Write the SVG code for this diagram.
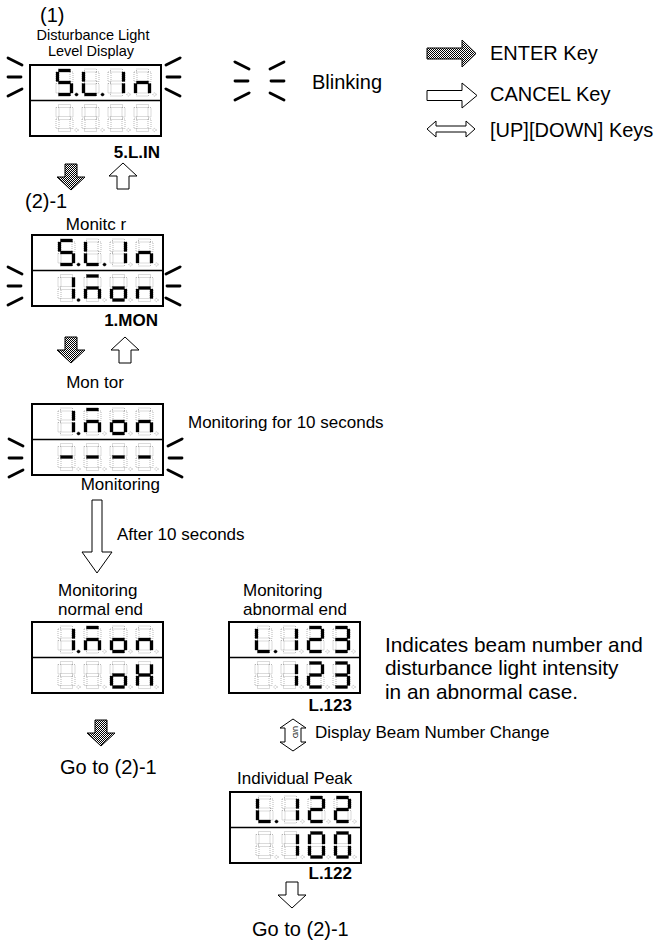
<svg xmlns="http://www.w3.org/2000/svg" width="660" height="949" viewBox="0 0 660 949">
<style>
text{font-family:"Liberation Sans",Arial,sans-serif;fill:#000}
.s15{font-size:14.5px}
.s17{font-size:17px}
.s20{font-size:20px}
.s21{font-size:20.8px}
.b17{font-size:17px;font-weight:bold}
.box{fill:#fff;stroke:#000;stroke-width:2}
.div{stroke:#000;stroke-width:1.5}
.dim{fill:none;stroke:#9a9a9a;stroke-width:.7;stroke-dasharray:1 1}
.on{fill:#000;stroke:#000;stroke-width:.2}
.blink{stroke:#000;stroke-width:2.8;stroke-linecap:round;fill:none}
.ent{fill:url(#hatch);stroke:#000;stroke-width:1}
.can{fill:#fff;stroke:#000;stroke-width:1}
</style>
<defs>
<pattern id="hatch" width="2" height="2" patternUnits="userSpaceOnUse"><rect width="2" height="2" fill="#fff"/><rect width="1" height="1" fill="#000"/><rect x="1" y="1" width="1" height="1" fill="#000"/></pattern>
<rect id="sa" x="2.5" y="0" width="12" height="3"/>
<rect id="sb" x="14" y="3" width="3" height="9.5"/>
<rect id="sc" x="14" y="14.5" width="3" height="9.5"/>
<rect id="sd" x="2.5" y="24" width="12" height="3"/>
<rect id="se" x="0" y="14.5" width="3" height="9.5"/>
<rect id="sf" x="0" y="3" width="3" height="9.5"/>
<rect id="sg" x="2.5" y="12" width="12" height="3"/>
<circle id="sp" cx="20.5" cy="25.5" r="1.6"/>
<g id="d8" class="dim"><use href="#sa"/><use href="#sb"/><use href="#sc"/><use href="#sd"/><use href="#se"/><use href="#sf"/><use href="#sg"/><use href="#sp"/></g>
<g id="k5" class="on"><use href="#sa"/><use href="#sf"/><use href="#sg"/><use href="#sc"/><use href="#sd"/></g>
<g id="kL" class="on"><use href="#sf"/><use href="#se"/><use href="#sd"/></g>
<g id="k1" class="on"><use href="#sb"/><use href="#sc"/></g>
<g id="kn" class="on"><use href="#se"/><use href="#sg"/><use href="#sc"/></g>
<g id="kM" class="on"><use href="#sa"/><use href="#se"/><use href="#sg"/><use href="#sc"/></g>
<g id="ko" class="on"><use href="#sg"/><use href="#sc"/><use href="#sd"/><use href="#se"/></g>
<g id="km" class="on"><use href="#sg"/></g>
<g id="kH" class="on"><use href="#sb"/><use href="#sc"/><use href="#se"/><use href="#sf"/><use href="#sg"/></g>
<g id="k2" class="on"><use href="#sa"/><use href="#sb"/><use href="#sg"/><use href="#se"/><use href="#sd"/></g>
<g id="k3" class="on"><use href="#sa"/><use href="#sb"/><use href="#sg"/><use href="#sc"/><use href="#sd"/></g>
<g id="k0" class="on"><use href="#sa"/><use href="#sb"/><use href="#sc"/><use href="#sd"/><use href="#se"/><use href="#sf"/></g>
<g id="kp" class="on"><use href="#sp"/></g>
<g id="bl" class="blink"><line x1="0" y1="-19" x2="14" y2="-12"/><line x1="0" y1="0" x2="13" y2="0"/><line x1="0" y1="19" x2="14" y2="12"/></g>
<g id="br" class="blink"><line x1="0" y1="-12" x2="14" y2="-19"/><line x1="1" y1="0" x2="14" y2="0"/><line x1="0" y1="12" x2="14" y2="19"/></g>
<path id="arrDown" d="M-6,0H6V13H14L0,26L-14,13H-6Z"/>
<path id="arrUp" d="M0,0L14,13H6V26H-6V13H-14Z"/>
</defs>
<rect width="660" height="949" fill="#fff"/>

<g id="legend">
<use href="#bl" x="235" y="81"/><use href="#br" x="270" y="81"/>
<text class="s20" x="312" y="89">Blinking</text>
<path class="ent" d="M427,48H462V40L476,53.5L462,67V59H427Z"/>
<text class="s20" x="490" y="60">ENTER Key</text>
<path class="can" d="M427,90.5H462V83L477,95.5L462,108V100.5H427Z"/>
<text class="s20" x="490" y="101">CANCEL Key</text>
<path class="can" d="M427,129L436,121V126H466V121L475,129L466,137V132H436V137Z"/>
<text class="s20" x="490" y="137">[UP][DOWN] Keys</text>
</g>

<g id="n1">
<text class="s20" x="40" y="22">(1)</text>
<text class="s15" x="93" y="40" text-anchor="middle">Disturbance Light</text>
<text class="s15" x="91" y="56" text-anchor="middle">Level Display</text>
<rect class="box" x="30" y="65" width="131" height="71"/>
<line class="div" x1="30" y1="100.5" x2="161" y2="100.5"/>
<use href="#d8" x="56" y="69"/><use href="#k5" x="56" y="69"/><use href="#kp" x="56" y="69"/>
<use href="#d8" x="82" y="69"/><use href="#kL" x="82" y="69"/><use href="#kp" x="82" y="69"/>
<use href="#d8" x="108" y="69"/><use href="#k1" x="108" y="69"/>
<use href="#d8" x="134" y="69"/><use href="#kn" x="134" y="69"/>
<use href="#d8" x="56" y="104.5"/><use href="#d8" x="82" y="104.5"/><use href="#d8" x="108" y="104.5"/><use href="#d8" x="134" y="104.5"/>
<use href="#bl" x="8" y="77"/><use href="#br" x="166" y="77"/>
<text class="b17" x="160" y="158" text-anchor="end">5.L.IN</text>
</g>

<g id="n2">
<text class="s20" x="25" y="208">(2)-1</text>
<text class="s17" x="96" y="230" text-anchor="middle">Monitc r</text>
<rect class="box" x="32" y="235" width="131" height="71"/>
<line class="div" x1="32" y1="270.5" x2="163" y2="270.5"/>
<use href="#d8" x="58" y="239"/><use href="#k5" x="58" y="239"/><use href="#kp" x="58" y="239"/>
<use href="#d8" x="84" y="239"/><use href="#kL" x="84" y="239"/><use href="#kp" x="84" y="239"/>
<use href="#d8" x="110" y="239"/><use href="#k1" x="110" y="239"/>
<use href="#d8" x="136" y="239"/><use href="#kn" x="136" y="239"/>
<use href="#d8" x="58" y="274.5"/><use href="#k1" x="58" y="274.5"/><use href="#kp" x="58" y="274.5"/>
<use href="#d8" x="84" y="274.5"/><use href="#kM" x="84" y="274.5"/>
<use href="#d8" x="110" y="274.5"/><use href="#ko" x="110" y="274.5"/>
<use href="#d8" x="136" y="274.5"/><use href="#kn" x="136" y="274.5"/>
<use href="#bl" x="8" y="286"/><use href="#br" x="166" y="286"/>
<text class="b17" x="158" y="326" text-anchor="end">1.MON</text>
</g>

<g id="n3">
<text class="s17" x="95" y="388" text-anchor="middle">Mon tor</text>
<rect class="box" x="32" y="404" width="131" height="71"/>
<line class="div" x1="32" y1="439.5" x2="163" y2="439.5"/>
<use href="#d8" x="58" y="408"/><use href="#k1" x="58" y="408"/><use href="#kp" x="58" y="408"/>
<use href="#d8" x="84" y="408"/><use href="#kM" x="84" y="408"/>
<use href="#d8" x="110" y="408"/><use href="#ko" x="110" y="408"/>
<use href="#d8" x="136" y="408"/><use href="#kn" x="136" y="408"/>
<use href="#d8" x="58" y="443.5"/><use href="#km" x="58" y="443.5"/>
<use href="#d8" x="84" y="443.5"/><use href="#km" x="84" y="443.5"/>
<use href="#d8" x="110" y="443.5"/><use href="#km" x="110" y="443.5"/>
<use href="#d8" x="136" y="443.5"/><use href="#km" x="136" y="443.5"/>
<use href="#bl" x="9" y="458"/><use href="#br" x="168" y="458"/>
<text class="s17" x="188" y="428">Monitoring for 10 seconds</text>
<text class="s17" x="160" y="490" text-anchor="end">Monitoring</text>
</g>

<g id="n4">
<text class="s17" x="58" y="596">Monitoring</text>
<text class="s17" x="58" y="615">normal end</text>
<rect class="box" x="32" y="622" width="131" height="71"/>
<line class="div" x1="32" y1="657.5" x2="163" y2="657.5"/>
<use href="#d8" x="58" y="626"/><use href="#k1" x="58" y="626"/><use href="#kp" x="58" y="626"/>
<use href="#d8" x="84" y="626"/><use href="#kM" x="84" y="626"/>
<use href="#d8" x="110" y="626"/><use href="#ko" x="110" y="626"/>
<use href="#d8" x="136" y="626"/><use href="#kn" x="136" y="626"/>
<use href="#d8" x="58" y="661.5"/>
<use href="#d8" x="84" y="661.5"/>
<use href="#d8" x="110" y="661.5"/><use href="#ko" x="110" y="661.5"/>
<use href="#d8" x="136" y="661.5"/><use href="#kH" x="136" y="661.5"/>
<text class="s20" x="60" y="774">Go to (2)-1</text>
</g>

<g id="n5">
<text class="s17" x="243" y="596">Monitoring</text>
<text class="s17" x="243" y="615">abnormal end</text>
<rect class="box" x="229" y="622" width="131" height="71"/>
<line class="div" x1="229" y1="657.5" x2="360" y2="657.5"/>
<use href="#d8" x="255" y="626"/><use href="#kL" x="255" y="626"/><use href="#kp" x="255" y="626"/>
<use href="#d8" x="281" y="626"/><use href="#k1" x="281" y="626"/>
<use href="#d8" x="307" y="626"/><use href="#k2" x="307" y="626"/>
<use href="#d8" x="333" y="626"/><use href="#k3" x="333" y="626"/>
<use href="#d8" x="255" y="661.5"/>
<use href="#d8" x="281" y="661.5"/><use href="#k1" x="281" y="661.5"/>
<use href="#d8" x="307" y="661.5"/><use href="#k2" x="307" y="661.5"/>
<use href="#d8" x="333" y="661.5"/><use href="#k3" x="333" y="661.5"/>
<text class="b17" x="352" y="711" text-anchor="end">L.123</text>
<text class="s21" x="385" y="652">Indicates beam number and</text>
<text class="s21" x="385" y="675">disturbance light intensity</text>
<text class="s21" x="385" y="699">in an abnormal case.</text>
</g>

<g id="n6">
<text class="s17" x="237" y="784">Individual Peak</text>
<rect class="box" x="230" y="792" width="131" height="71"/>
<line class="div" x1="230" y1="827.5" x2="361" y2="827.5"/>
<use href="#d8" x="256" y="796"/><use href="#kL" x="256" y="796"/><use href="#kp" x="256" y="796"/>
<use href="#d8" x="282" y="796"/><use href="#k1" x="282" y="796"/>
<use href="#d8" x="308" y="796"/><use href="#k2" x="308" y="796"/>
<use href="#d8" x="334" y="796"/><use href="#k2" x="334" y="796"/>
<use href="#d8" x="256" y="831.5"/>
<use href="#d8" x="282" y="831.5"/><use href="#k1" x="282" y="831.5"/>
<use href="#d8" x="308" y="831.5"/><use href="#k0" x="308" y="831.5"/>
<use href="#d8" x="334" y="831.5"/><use href="#k0" x="334" y="831.5"/>
<text class="b17" x="352" y="879" text-anchor="end">L.122</text>
<text class="s20" x="252" y="936">Go to (2)-1</text>
</g>

<g id="connectors">
<use href="#arrDown" x="71" y="164" class="ent"/>
<use href="#arrUp" x="123" y="163" class="can"/>
<use href="#arrDown" x="71" y="337" class="ent"/>
<use href="#arrUp" x="125" y="337" class="can"/>
<path class="can" d="M92,500H102V552H112L97,573L82,552H92Z"/>
<text class="s17" x="117" y="540">After 10 seconds</text>
<use href="#arrDown" x="101" y="720" class="ent"/>
<path class="can" d="M293,719L306,728H301V742H306L293,751L280,742H285V728H280Z"/>
<text x="290" y="735" font-size="7" text-anchor="middle" transform="rotate(90 293 735)">U/D</text>
<text class="s17" x="315" y="738">Display Beam Number Change</text>
<use href="#arrDown" x="292" y="882" class="can"/>
</g>
</svg>
